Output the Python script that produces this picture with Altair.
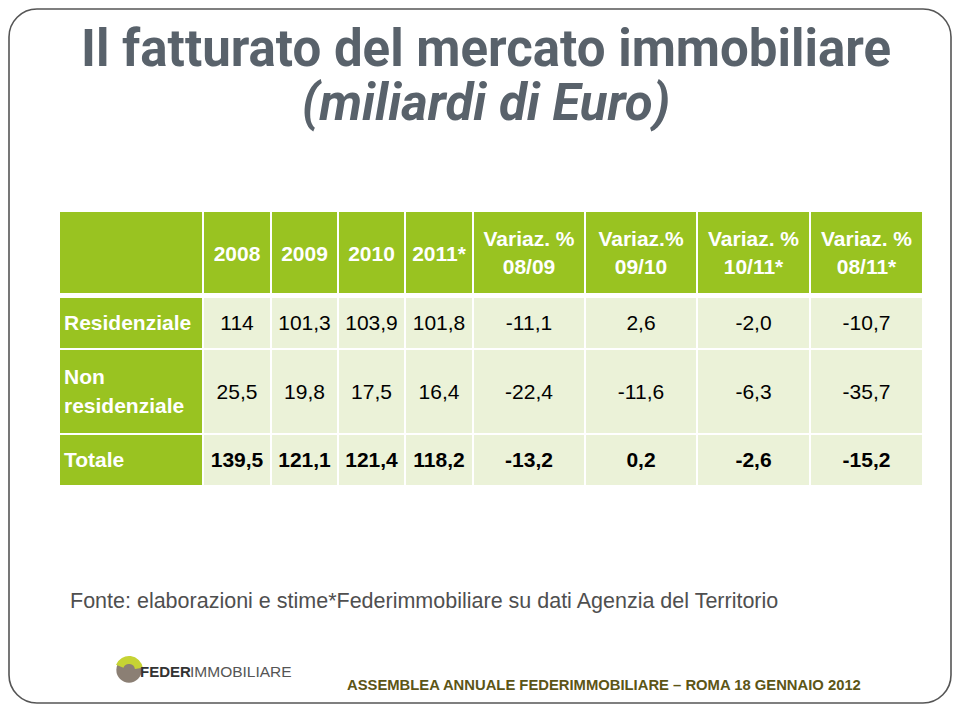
import altair as alt
import pandas as pd

# ---------------- data ----------------
title_line1 = "Il fatturato del mercato immobiliare"
title_line2 = "(miliardi di Euro)"
row_labels = ["Residenziale", "Non residenziale", "Totale"]
year_headers = ["2008", "2009", "2010", "2011*"]
var_headers_top = ["Variaz. %", "Variaz.%", "Variaz. %", "Variaz. %"]
var_headers_bottom = ["08/09", "09/10", "10/11*", "08/11*"]
residenziale = [114, 101.3, 103.9, 101.8]
non_residenziale = [25.5, 19.8, 17.5, 16.4]
totale = [139.5, 121.1, 121.4, 118.2]
var_residenziale = [-11.1, 2.6, -2.0, -10.7]
var_non_residenziale = [-22.4, -11.6, -6.3, -35.7]
var_totale = [-13.2, 0.2, -2.6, -15.2]
source_note = "Fonte: elaborazioni e stime*Federimmobiliare su dati Agenzia del Territorio"
footer_text = "ASSEMBLEA ANNUALE FEDERIMMOBILIARE \u2013 ROMA 18 GENNAIO 2012"
logo_bold = "FEDER"
logo_light = "IMMOBILIARE"

# ---------------- layout (page pixels) ----------------
col_left = [60, 204, 272, 339, 406, 474, 586, 698, 811]
col_right = [202, 270, 337, 404, 472, 584, 696, 809, 922]
row_top = [212, 298, 350, 435]
row_bottom = [293, 348, 433, 485]

GREEN = "#99c321"
LIGHT = "#ebf2d8"
TITLE_GRAY = "#59626b"
FONT = "Liberation Sans"
TITLE_FONT = "Roboto"

XS = alt.Scale(domain=[8, 952], range=[0, 944], nice=False, zero=False)
YS = alt.Scale(domain=[8, 704], range=[0, 696], nice=False, zero=False)


def X(f="x"):
    return alt.X(f, type="quantitative", scale=XS, axis=None)


def Y(f="y"):
    return alt.Y(f, type="quantitative", scale=YS, axis=None)


def fmt_level(v):
    if float(v).is_integer():
        return str(int(v))
    return f"{v:.1f}".replace(".", ",")


def fmt_var(v):
    return f"{v:.1f}".replace(".", ",")


def cx(i):
    return (col_left[i] + col_right[i]) / 2


def cy(r):
    return (row_top[r] + row_bottom[r]) / 2


# ---------------- cells ----------------
cells = []
for r in range(4):
    for c in range(9):
        fill = GREEN if (r == 0 or c == 0) else LIGHT
        cells.append(dict(x=col_left[c], x2=col_right[c], y=row_top[r], y2=row_bottom[r], fill=fill))
cells_df = pd.DataFrame(cells)

cell_layer = alt.Chart(cells_df).mark_rect().encode(
    x=X(), x2="x2", y=Y(), y2="y2", color=alt.Color("fill:N", scale=None)
)

# header texts
hdr = []
for i, yh in enumerate(year_headers):
    hdr.append(dict(x=cx(i + 1), y=cy(0) + 2, t=yh))
for i in range(4):
    hdr.append(dict(x=cx(i + 5), y=cy(0) - 13, t=var_headers_top[i]))
    hdr.append(dict(x=cx(i + 5), y=cy(0) + 15, t=var_headers_bottom[i]))
hdr_layer = alt.Chart(pd.DataFrame(hdr)).mark_text(
    font=FONT, fontSize=21, fontWeight="bold", color="white", align="center", baseline="middle"
).encode(x=X(), y=Y(), text="t:N")

# row labels
lab = [
    dict(x=64, y=cy(1) + 1, t=row_labels[0]),
    dict(x=64, y=cy(2) - 14, t=row_labels[1].split(" ")[0]),
    dict(x=64, y=cy(2) + 15, t=row_labels[1].split(" ")[1]),
    dict(x=64, y=cy(3) + 1, t=row_labels[2]),
]
lab_layer = alt.Chart(pd.DataFrame(lab)).mark_text(
    font=FONT, fontSize=21, fontWeight="bold", color="white", align="left", baseline="middle"
).encode(x=X(), y=Y(), text="t:N")

# body values
body = []
for r, (lv, vv) in enumerate([(residenziale, var_residenziale), (non_residenziale, var_non_residenziale)]):
    for i in range(4):
        body.append(dict(x=cx(i + 1), y=cy(r + 1) + 1, t=fmt_level(lv[i])))
        body.append(dict(x=cx(i + 5), y=cy(r + 1) + 1, t=fmt_var(vv[i])))
body_layer = alt.Chart(pd.DataFrame(body)).mark_text(
    font=FONT, fontSize=21, color="black", align="center", baseline="middle"
).encode(x=X(), y=Y(), text="t:N")

tot = []
for i in range(4):
    tot.append(dict(x=cx(i + 1), y=cy(3) + 1, t=fmt_level(totale[i])))
    tot.append(dict(x=cx(i + 5), y=cy(3) + 1, t=fmt_var(var_totale[i])))
tot_layer = alt.Chart(pd.DataFrame(tot)).mark_text(
    font=FONT, fontSize=21, fontWeight="bold", color="black", align="center", baseline="middle"
).encode(x=X(), y=Y(), text="t:N")

# ---------------- titles ----------------
t1 = alt.Chart(pd.DataFrame([dict(x=486, y=66, t=title_line1)])).mark_text(
    font=TITLE_FONT, fontSize=51, fontWeight="bold", color=TITLE_GRAY, align="center", baseline="alphabetic"
).encode(x=X(), y=Y(), text="t:N")
t2 = alt.Chart(pd.DataFrame([dict(x=486, y=120, t=title_line2)])).mark_text(
    font=TITLE_FONT, fontSize=51, fontWeight="bold", fontStyle="italic", color=TITLE_GRAY,
    align="center", baseline="alphabetic"
).encode(x=X(), y=Y(), text="t:N")

note = alt.Chart(pd.DataFrame([dict(x=70, y=608, t=source_note)])).mark_text(
    font=FONT, fontSize=21.5, color="#4f4f4f", align="left", baseline="alphabetic"
).encode(x=X(), y=Y(), text="t:N")

foot = alt.Chart(pd.DataFrame([dict(x=347, y=690, t=footer_text)])).mark_text(
    font=FONT, fontSize=14.8, fontWeight="bold", color="#5c5516", align="left", baseline="alphabetic"
).encode(x=X(), y=Y(), text="t:N")

# ---------------- logo ----------------
logo_pt = pd.DataFrame([dict(x=129, y=670)])
logo_circle = alt.Chart(logo_pt).mark_circle(size=640, color="#8b7f74", opacity=1).encode(x=X(), y=Y())
logo_cap = alt.Chart(logo_pt).mark_arc(
    theta=5.1, theta2=7.7, outerRadius=14, innerRadius=6, color="#c6d334"
).encode(x=X(), y=Y())
logo_t1 = alt.Chart(pd.DataFrame([dict(x=140, y=677, t=logo_bold)])).mark_text(
    font=FONT, fontSize=15, fontWeight="bold", color="#333333", align="left", baseline="alphabetic"
).encode(x=X(), y=Y(), text="t:N")
logo_t2 = alt.Chart(pd.DataFrame([dict(x=190, y=677, t=logo_light)])).mark_text(
    font=FONT, fontSize=15.5, color="#555555", align="left", baseline="alphabetic"
).encode(x=X(), y=Y(), text="t:N")

# ---------------- frame ----------------
frame = alt.Chart(pd.DataFrame([dict(x=9, x2=951, y=9, y2=703)])).mark_rect(
    filled=False, stroke="#555555", strokeWidth=1.6, cornerRadius=28
).encode(x=X(), x2="x2", y=Y(), y2="y2")

chart = alt.layer(
    frame, cell_layer, hdr_layer, lab_layer, body_layer, tot_layer,
    t1, t2, note, foot, logo_circle, logo_cap, logo_t1, logo_t2
).properties(
    width=944, height=696, padding=0,
    autosize=alt.AutoSizeParams(type="none"), background="white"
).configure_view(stroke=None)

chart.save("out.html", embed_options={"renderer": "svg", "actions": False})
